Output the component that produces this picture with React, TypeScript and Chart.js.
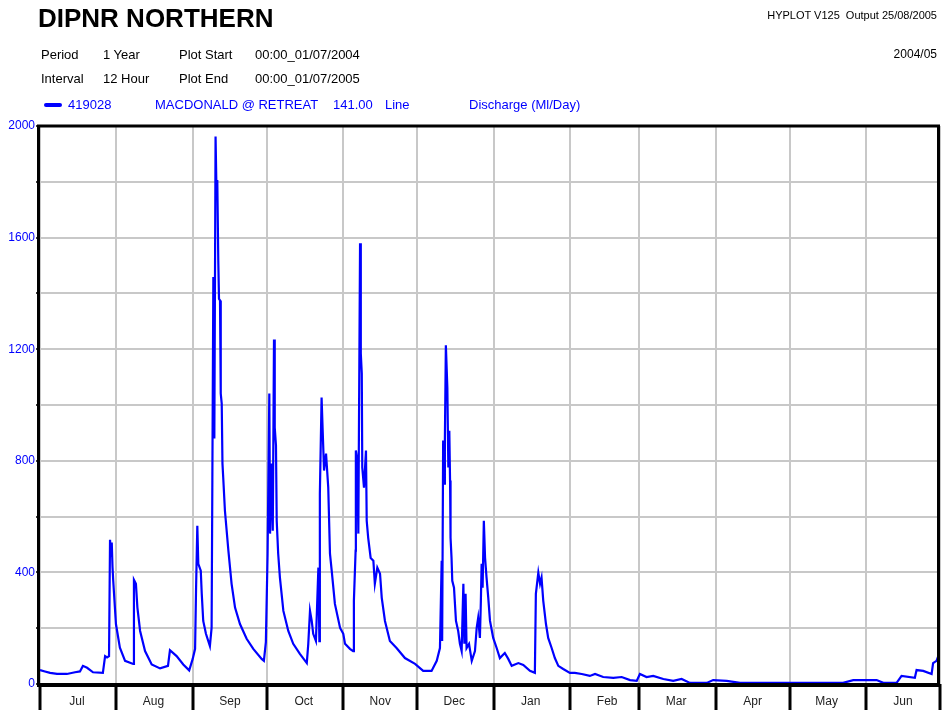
import React, { useEffect, useRef } from "react";
import { Chart, registerables } from "chart.js";

Chart.register(...registerables);

// Days since 00:00 01/07/2004 and discharge (Ml/Day)
const flowDays = [
  0.0, 2.0, 4.1, 6.9, 10.9, 14.2, 16.2, 17.4, 19.1, 21.5, 25.5, 26.4, 27.2, 28.0, 28.4, 28.8, 29.1, 29.4, 29.7,
  30.8, 32.4, 34.5, 37.8, 38.1, 38.9, 39.5, 40.6, 42.6, 45.3, 48.7, 51.9, 52.7, 55.4, 58.1, 60.5, 61.9, 62.9,
  63.3, 63.8, 64.2, 65.2, 65.6, 66.2, 67.3, 68.9, 69.6, 69.9, 70.3, 70.7, 71.2, 71.6, 71.9, 72.3, 72.6, 73.0,
  73.3, 73.7, 74.0, 74.3, 75.0, 76.4, 77.7, 79.1, 81.1, 83.8, 86.5, 89.9, 90.8, 91.6, 92.3, 93.0, 93.3, 94.0,
  94.4, 94.9, 95.2, 95.7, 96.0, 96.6, 97.3, 98.7, 100.7, 102.7, 105.4, 108.2, 108.8, 109.5, 110.2, 110.8,
  111.9, 112.9, 113.3, 113.5, 114.2, 114.6, 115.2, 116.0, 116.9, 117.6, 118.3, 119.6, 121.7, 123.0, 123.7,
  125.7, 127.0, 127.3, 128.0, 128.1, 128.7, 129.1, 129.8, 130.1, 130.5, 130.7, 131.4, 132.2, 132.5, 133.1,
  134.1, 135.2, 135.8, 136.8, 137.9, 138.6, 139.9, 141.9, 144.6, 148.0, 152.1, 155.4, 158.8, 160.9, 162.2,
  162.9, 163.1, 163.5, 163.9, 164.2, 164.6, 165.2, 165.6, 166.0, 166.3, 166.5, 166.9, 167.2, 167.9, 168.7,
  169.6, 170.3, 171.0, 171.7, 172.1, 172.6, 173.0, 174.0, 175.1, 176.4, 177.1, 177.7, 178.4, 178.8, 179.1,
  179.5, 180.0, 180.5, 181.1, 181.8, 182.5, 183.8, 185.2, 186.5, 188.5, 189.9, 191.3, 194.0, 196.0, 198.7,
  200.7, 201.1, 202.1, 202.8, 203.4, 204.1, 205.2, 206.1, 207.5, 208.8, 210.2, 212.2, 214.9, 216.9, 219.7,
  223.0, 225.1, 228.4, 232.5, 235.9, 239.3, 242.0, 243.3, 246.0, 248.7, 252.8, 256.8, 260.2, 263.6, 270.4,
  273.0, 278.5, 283.9, 304.1, 315.0, 325.7, 329.8, 339.3, 342.0, 347.4, 349.4, 354.8, 355.5, 358.2, 361.6,
  362.2, 363.6, 364.3, 365.0,
];

const flowValues = [
  50, 45, 40, 36, 36, 42, 45, 65, 58, 42, 40, 100, 95, 100, 517, 460, 507, 420, 370,
  215, 130, 83, 72, 373, 359, 274, 190, 118, 70, 56, 65, 121, 100, 70, 49, 89, 126,
  346, 567, 431, 406, 323, 226, 180, 136, 202, 729, 1459, 880, 1962, 1750, 1806, 1519, 1380, 1375,
  1041, 1005, 790, 741, 621, 478, 359, 274, 215, 162, 126, 90, 83, 150, 467, 1041, 539, 790,
  549, 1235, 919, 855, 585, 467, 381, 262, 190, 144, 108, 75, 144, 262, 226, 180,
  154, 417, 154, 682, 1027, 919, 765, 826, 704, 467, 406, 287, 201, 180, 144,
  126, 118, 298, 478, 837, 801, 539, 1580, 1185, 1113, 776, 704, 837, 585, 524,
  452, 442, 359, 417, 395, 309, 226, 154, 129, 93, 72, 47, 47, 83, 129,
  442, 154, 873, 718, 873, 1214, 1063, 776, 908, 729, 524, 452, 370, 345, 226,
  190, 144, 118, 359, 144, 323, 129, 144, 83, 118, 201, 237, 165, 298, 431,
  345, 585, 452, 381, 309, 226, 165, 129, 93, 111, 90, 65, 75, 68, 47,
  40, 323, 399, 359, 381, 298, 215, 165, 129, 93, 65, 54, 40, 40, 36,
  29, 36, 25, 22, 25, 14, 11, 36, 25, 29, 18, 11, 18, 4, 4,
  14, 11, 4, 4, 4, 4, 14, 14, 4, 4, 29, 22, 50, 47, 36,
  75, 83, 100, 100,
];

const monthStartDays = [0, 31, 62, 92, 123, 153, 184, 215, 243, 274, 304, 335, 365];
const monthLabels = ["Jul", "Aug", "Sep", "Oct", "Nov", "Dec", "Jan", "Feb", "Mar", "Apr", "May", "Jun"];
const yStep = 200;
const yLabelStep = 400;
const yMax = 2000;

const BLUE = "#0000ff";
const FONT = '"Liberation Sans", Arial, Helvetica, sans-serif';

const frame = {
  id: "frame",
  afterDraw(chart: any) {
    const { ctx, chartArea } = chart;
    const { left, right, top, bottom } = chartArea;
    ctx.save();
    ctx.strokeStyle = "#000";
    ctx.lineWidth = 3;
    ctx.beginPath();
    ctx.moveTo(left - 3, top);
    ctx.lineTo(right, top);
    ctx.moveTo(left - 1.5, top);
    ctx.lineTo(left - 1.5, bottom + 2);
    ctx.moveTo(right - 1.5, top);
    ctx.lineTo(right - 1.5, bottom + 2);
    ctx.stroke();
    ctx.lineWidth = 4;
    ctx.beginPath();
    ctx.moveTo(left - 3, bottom + 1);
    ctx.lineTo(right, bottom + 1);
    ctx.stroke();
    ctx.restore();
  },
};

function Txt(props: { text: string; left?: number; right?: number; top: number; color?: string; size?: number; bold?: boolean }) {
  const { text, left, right, top, color = "#000", size = 13, bold = false } = props;
  const style: React.CSSProperties = {
    position: "absolute",
    top,
    fontFamily: FONT,
    fontSize: size,
    fontWeight: bold ? "bold" : "normal",
    lineHeight: 1,
    whiteSpace: "pre",
    color,
  };
  if (right !== undefined) style.right = right;
  else style.left = left;
  return <div style={style}>{text}</div>;
}

export default function App() {
  const canvasRef = useRef<HTMLCanvasElement | null>(null);

  useEffect(() => {
    document.body.style.margin = "0";
    const canvas = canvasRef.current;
    if (!canvas) return;
    const chart = new Chart(canvas, {
      type: "line",
      data: {
        datasets: [
          {
            label: "419028",
            data: flowDays.map((d, i) => ({ x: d, y: flowValues[i] })),
            borderColor: BLUE,
            borderWidth: 2.2,
            pointRadius: 0,
            tension: 0,
            fill: false,
          },
        ],
      },
      options: {
        responsive: false,
        animation: false,
        devicePixelRatio: 1,
        layout: { padding: { top: 126, right: 4, left: 0, bottom: 0 } },
        plugins: { legend: { display: false }, tooltip: { enabled: false } },
        scales: {
          x: {
            type: "linear",
            min: 0,
            max: 365,
            afterBuildTicks: (s: any) => {
              s.ticks = monthStartDays.map((v) => ({ value: v }));
            },
            afterFit: (s: any) => {
              s.height = 26;
            },
            border: { display: false },
            grid: { color: "#c8c8c8", lineWidth: 2, tickColor: "#000", tickWidth: 3, tickLength: 26, drawTicks: true },
            ticks: {
              autoSkip: false,
              maxRotation: 0,
              padding: -16,
              labelOffset: 37,
              color: "#222",
              font: { family: FONT, size: 12 },
              callback: (_v: any, i: number) => monthLabels[i] ?? "",
            },
          },
          y: {
            min: 0,
            max: yMax,
            afterFit: (s: any) => {
              s.width = 40;
            },
            border: { display: false },
            grid: { color: "#c8c8c8", lineWidth: 2, tickColor: "#000", tickWidth: 1.5, tickLength: 4 },
            ticks: {
              stepSize: yStep,
              padding: 1,
              color: BLUE,
              font: { family: FONT, size: 12 },
              callback: (v: any) => (Number(v) % yLabelStep === 0 ? String(v) : ""),
            },
          },
        },
      },
      plugins: [frame],
    } as any);
    return () => chart.destroy();
  }, []);

  return (
    <div style={{ position: "relative", width: 944, height: 710, overflow: "hidden", background: "#fff" }}>
      <canvas ref={canvasRef} width={944} height={710} style={{ position: "absolute", left: 0, top: 0, width: 944, height: 710 }} />
      <Txt text="DIPNR NORTHERN" left={38} top={5} size={26} bold />
      <Txt text="HYPLOT V125  Output 25/08/2005" right={7} top={9.6} size={11} />
      <Txt text="2004/05" right={7} top={48} size={12} />
      <Txt text="Period" left={41} top={47.6} />
      <Txt text="1 Year" left={103} top={47.6} />
      <Txt text="Plot Start" left={179} top={47.6} />
      <Txt text="00:00_01/07/2004" left={255} top={47.6} />
      <Txt text="Interval" left={41} top={71.6} />
      <Txt text="12 Hour" left={103} top={71.6} />
      <Txt text="Plot End" left={179} top={71.6} />
      <Txt text="00:00_01/07/2005" left={255} top={71.6} />
      <div style={{ position: "absolute", left: 44, top: 102.5, width: 18, height: 4, background: BLUE, borderRadius: 2 }} />
      <Txt text="419028" left={68} top={97.6} color={BLUE} />
      <Txt text="MACDONALD @ RETREAT" left={155} top={97.6} color={BLUE} />
      <Txt text="141.00" left={333} top={97.6} color={BLUE} />
      <Txt text="Line" left={385} top={97.6} color={BLUE} />
      <Txt text="Discharge (Ml/Day)" left={469} top={97.6} color={BLUE} />
    </div>
  );
}
